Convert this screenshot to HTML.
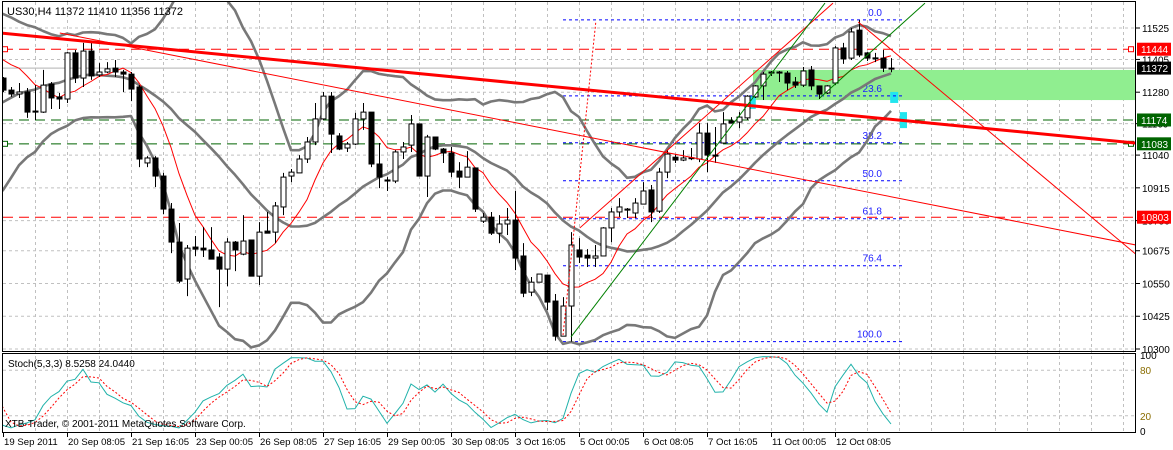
<!DOCTYPE html>
<html><head><meta charset="utf-8"><title>US30 H4 chart</title>
<style>
html,body{margin:0;padding:0;background:#fff;}
svg{display:block;font-family:"Liberation Sans",sans-serif;}
</style></head>
<body>
<svg id="chart" width="1173" height="450" viewBox="0 0 1173 450" xmlns="http://www.w3.org/2000/svg">
<defs>
<clipPath id="mainClip"><rect x="3" y="2" width="1132" height="349"/></clipPath>
<clipPath id="stochClip"><rect x="3" y="354" width="1132" height="78"/></clipPath>
</defs>
<rect x="0" y="0" width="1173" height="450" fill="#fff"/>
<g id="grid"></g>
<g id="mainG" clip-path="url(#mainClip)"></g>
<g id="stochG" clip-path="url(#stochClip)"></g>
<g id="axes"></g>
<rect x="2.5" y="1.5" width="1133" height="350" fill="none" stroke="#000"/>
<rect x="2.5" y="353.5" width="1133" height="79" fill="none" stroke="#000"/>
<text x="7" y="15" font-size="11" fill="#000">US30,H4  11372 11410 11356 11372</text>
<text x="8" y="367" font-size="10" fill="#000">Stoch(5,3,3) 8.5258 24.0440</text>
<text x="5" y="427" font-size="10" fill="#000">XTB-Trader, © 2001-2011 MetaQuotes Software Corp.</text>
</svg>
<script>
const opens=[11334,11288,11273,11281,11208,11204,11311,11262,11254,11430,
11334,11437,11346,11357,11372,11357,11349,11300,11010,11029,
10960,10834,10708,10567,10689,10685,10678,10651,10605,10708,
10662,10716,10578,10750,10746,10842,10960,10972,11025,11090,
11178,11265,11113,11067,11082,11178,11204,11006,10945,10941,
11052,11078,11159,10960,11109,11063,11048,10979,10956,10991,
10788,10803,10742,10777,10792,10655,10517,10555,10582,10483,
10349,10464,10678,10658,10647,10655,10762,10823,10830,10819,
10853,10907,10826,10975,11032,11021,11030,11025,11124,11040,
11086,11170,11166,11182,11262,11304,11353,11357,11353,11319,
11307,11365,11304,11277,11315,11449,11410,11517,11430,11411,
11410,11372];
const highs=[11338,11300,11315,11296,11307,11365,11319,11277,11433,11441,
11468,11468,11391,11395,11403,11365,11357,11307,11036,11036,
10972,10857,10781,10697,10731,10765,10765,10666,10723,10712,
10811,10716,10784,10823,10861,10972,10987,11040,11109,11239,
11281,11281,11124,11090,11201,11239,11204,11086,10956,11059,
11090,11193,11159,11117,11109,11067,11071,11013,11055,10991,
10819,10823,10811,10838,10903,10704,10575,10586,10582,10510,
10498,10746,10723,10681,10697,10765,10838,10876,10838,10876,
10937,10926,10991,11059,11044,11059,11067,11162,11162,11147,
11204,11185,11204,11269,11307,11357,11361,11361,11361,11338,
11376,11380,11304,11307,11456,11468,11525,11556,11433,11430,
11441,11410];
const lows=[11281,11262,11258,11182,11174,11201,11216,11216,11239,11315,
11300,11327,11338,11353,11338,11281,11246,10994,10994,10918,
10815,10666,10552,10502,10655,10651,10643,10460,10540,10597,
10658,10578,10544,10742,10704,10811,10937,10972,11010,11078,
11174,11048,11059,11052,11078,11136,10994,10914,10903,10933,
11025,11052,10960,10880,11059,11010,10956,10914,10956,10823,
10781,10735,10704,10735,10601,10498,10502,10555,10449,10332,
10349,10328,10628,10613,10613,10655,10708,10804,10800,10800,
10853,10784,10819,10952,11010,11017,11021,11013,10975,11010,
11086,11162,11143,11174,11258,11250,11342,11319,11288,11296,
11300,11288,11254,11273,11307,11388,11403,11414,11399,11395,
11357,11356];
const closes=[11288,11273,11281,11204,11204,11307,11258,11254,11430,11334,
11437,11342,11357,11369,11357,11349,11292,11025,11029,10960,
10834,10708,10559,10685,10681,10678,10643,10605,10708,10678,
10712,10578,10746,10742,10846,10956,10975,11025,11090,11178,
11265,11120,11063,11082,11178,11204,11006,10956,10941,11052,
11071,11159,10960,11109,11063,11048,10975,10956,10994,10834,
10803,10742,10777,10792,10647,10513,10555,10586,10479,10349,
10464,10697,10651,10647,10655,10762,10823,10842,10834,10857,
10903,10823,10975,11044,11021,11029,11027,11124,11040,11036,
11159,11162,11185,11265,11304,11349,11357,11353,11315,11307,
11361,11304,11273,11304,11449,11407,11510,11422,11410,11409,
11372,11372];
const priorCloses=[10990,10940,10960,11030,11080,11050,11100,11150,11200,11180,11250,11300,11380,11420,11390,11440,11470,11430,11410,11380];
const priceTicks=[11525,11405,11280,11160,11040,10915,10790,10675,10550,10425,10300];
const dateLabels=["19 Sep 2011","20 Sep 08:05","21 Sep 16:05","23 Sep 00:05","26 Sep 08:05","27 Sep 16:05","29 Sep 00:05","30 Sep 08:05","3 Oct 16:05","5 Oct 00:05","6 Oct 08:05","7 Oct 16:05","11 Oct 00:05","12 Oct 08:05"];
const dateLabelBars=[0,8,16,24,32,40,48,56,64,72,80,88,96,104];
const redLevels=[11444,10803];
const greenLevels=[11174,11083];
const currentPrice=11372;
const fibHigh=11556, fibLow=10328;
const fibLevels=[0,23.6,38.2,50,61.8,76.4,100];
const fibLabels=["0.0","23.6","38.2","50.0","61.8","76.4","100.0"];
const stochTicks=[100,80,20,0];
const zoneTop=11365, zoneBottom=11250;

const NS="http://www.w3.org/2000/svg";
const X=i=>3+8*i;
const Y=p=>28+(11525-p)*(321/1225);
const YS=v=>431-v*0.76;
function mk(tag,parent,attrs){const e=document.createElementNS(NS,tag);for(const k in attrs)e.setAttribute(k,attrs[k]);parent.appendChild(e);return e;}
const grid=document.getElementById('grid'),mainG=document.getElementById('mainG'),stochG=document.getElementById('stochG'),axes=document.getElementById('axes');

priceTicks.forEach(p=>{const l=mk('line',grid,{x1:3,x2:1135,y1:Y(p),y2:Y(p),stroke:'#c0c0c0','stroke-dasharray':'3,3'});

});
for(let k=1;k<=35;k++){const x=X(4*k)+0.5;const l=mk('line',grid,{x1:x,x2:x,y1:2,y2:432,stroke:'#c0c0c0','stroke-dasharray':'3,3'});

}
[80,20].forEach(v=>{const l=mk('line',grid,{x1:3,x2:1135,y1:YS(v),y2:YS(v),stroke:'#c0c0c0','stroke-dasharray':'3,3'});

});

const zone=mk('rect',mainG,{x:X(94)-2,y:Y(zoneTop),width:1135-X(94)+2,height:Y(zoneBottom)-Y(zoneTop),fill:'#90ee90'});


[[93.4,94.1,11265,11216],[110.9,111.9,11281,11239],[112.1,113,11204,11143]].forEach(c=>{const r=mk('rect',mainG,{x:X(c[0]),y:Y(c[2]),width:X(c[1])-X(c[0]),height:Y(c[3])-Y(c[2]),fill:'#22e5ee'});

});

const cp=mk('line',mainG,{x1:3,x2:1135,y1:Y(currentPrice),y2:Y(currentPrice),stroke:'#c0c0c0','stroke-width':1.2});



redLevels.forEach(p=>{const l=mk('line',mainG,{x1:3,x2:1135,y1:Y(p),y2:Y(p),stroke:'#ff0000','stroke-dasharray':'10,6'});

});
greenLevels.forEach(p=>{const l=mk('line',mainG,{x1:3,x2:1135,y1:Y(p),y2:Y(p),stroke:'#006400','stroke-dasharray':'10,6'});

});
[[redLevels[0],'#ff0000'],[greenLevels[1],'#006400']].forEach(a=>{[5,1131].forEach(x=>{const s=mk('rect',mainG,{x:x-2.5,y:Y(a[0])-2.5,width:5,height:5,fill:'#fff',stroke:a[1]});

});});

fibLevels.forEach((f,j)=>{const p=fibHigh-(fibHigh-fibLow)*f/100;const l=mk('line',mainG,{x1:X(70),x2:905,y1:Y(p),y2:Y(p),stroke:'#0000ff','stroke-dasharray':'3,3'});


const t=mk('text',mainG,{x:882,y:Y(p)-4,'font-size':10,fill:'#2020ff','text-anchor':'end'});t.textContent=fibLabels[j];

});

const allC=priorCloses.concat(closes);const off=priorCloses.length;
const up=[],mid=[],lo=[],ma=[];
for(let k=19;k<allC.length;k++){const w=allC.slice(k-19,k+1);const m=w.reduce((a,b)=>a+b,0)/20;const sd=Math.sqrt(w.reduce((a,b)=>a+(b-m)*(b-m),0)/20);up.push([k-off,m+2*sd]);mid.push([k-off,m]);lo.push([k-off,m-2*sd]);}
for(let k=7;k<allC.length;k++){const w=allC.slice(k-7,k+1);ma.push([k-off,w.reduce((a,b)=>a+b,0)/8]);}
[[up,'upper'],[mid,'middle'],[lo,'lower']].forEach(s=>{const pl=mk('polyline',mainG,{points:s[0].map(d=>X(d[0])+','+Y(d[1]).toFixed(1)).join(' '),fill:'none',stroke:'#787878','stroke-width':2.6,'stroke-linejoin':'round'});

});
const mal=mk('polyline',mainG,{points:ma.map(d=>X(d[0])+','+Y(d[1]).toFixed(1)).join(' '),fill:'none',stroke:'#ff0000','stroke-width':1});



closes.forEach((c,i)=>{const o=opens[i],x=X(i);
const w=mk('line',mainG,{x1:x+0.5,x2:x+0.5,y1:Y(highs[i]),y2:Y(lows[i]),stroke:'#000'});


const t=Y(Math.max(o,c)),b=Y(Math.min(o,c));
const r=mk('rect',mainG,{x:x-2,y:t,width:5,height:Math.max(b-t,1),fill:c>=o?'#fff':'#000',stroke:'#000','stroke-width':1});

});

const trendLines=[[-0.4,11506,141.6,11086,'#ff0000',3,'','main-trendline'],[7.1,11506,141.6,10697,'#ff0000',1,'','secondary-trendline'],[106.9,11548,141.6,10662,'#ff0000',1,'','peak-trendline'],[72.1,10762,103.75,11620,'#ff0000',1,'','channel-trendline'],[71,10346,102.75,11620,'#008000',1,'','green-channel-line'],[102.1,11258,115.25,11620,'#008000',1,'','green-upper-line'],[70,10353,74.1,11548,'#ff0000',1,'2,2','fib-anchor-line']];
trendLines.forEach(t=>{const l=mk('line',mainG,{x1:X(t[0]),y1:Y(t[1]),x2:X(t[2]),y2:Y(t[3]),stroke:t[4],'stroke-width':t[5]});if(t[6])l.setAttribute('stroke-dasharray',t[6]);

});

const allH=priorCloses.concat(highs),allL=priorCloses.concat(lows);
const num=[],den=[],K=[],D=[];
for(let k=0;k<allC.length;k++){if(k<4){num.push(null);den.push(null);continue;}const hh=Math.max(...allH.slice(k-4,k+1)),ll=Math.min(...allL.slice(k-4,k+1));num.push(allC[k]-ll);den.push(hh-ll);}
for(let k=0;k<allC.length;k++){if(k<6){K.push(null);continue;}const n=num[k]+num[k-1]+num[k-2],d=den[k]+den[k-1]+den[k-2];K.push(d>0?100*n/d:50);}
for(let k=0;k<allC.length;k++){if(k<8){D.push(null);continue;}D.push((K[k]+K[k-1]+K[k-2])/3);}
const kp=[],dp=[];for(let k=off-1;k<allC.length;k++){kp.push(X(k-off)+','+YS(K[k]).toFixed(1));dp.push(X(k-off)+','+YS(D[k]).toFixed(1));}
const kl=mk('polyline',stochG,{points:kp.join(' '),fill:'none',stroke:'#20b2aa','stroke-width':1});


const dl=mk('polyline',stochG,{points:dp.join(' '),fill:'none',stroke:'#ff0000','stroke-width':1,'stroke-dasharray':'2,2'});



priceTicks.forEach(p=>{const tk=mk('line',axes,{x1:1136,x2:1140,y1:Y(p),y2:Y(p),stroke:'#000'});


const t=mk('text',axes,{x:1142,y:Y(p)+4,'font-size':10,fill:'#000'});t.textContent=p;

});
stochTicks.forEach(v=>{const t=mk('text',axes,{x:1140,y:YS(v)+4,'font-size':10,fill:(v===80||v===20)?'#8a6d00':'#000'});t.textContent=v;

});
dateLabels.forEach((s,j)=>{const x=X(dateLabelBars[j]);const tk=mk('line',axes,{x1:x+0.5,x2:x+0.5,y1:433,y2:437,stroke:'#000'});


const t=mk('text',axes,{x:x+1,y:445,'font-size':9.6,fill:'#000'});t.textContent=s;

});
const tags=[[11444,'#ff0000','#fff'],[11372,'#000','#fff'],[11174,'#006400','#fff'],[11083,'#006400','#fff'],[10803,'#ff0000','#fff']];
tags.forEach(a=>{const r=mk('rect',axes,{x:1137,y:Y(a[0])-6.5,width:34,height:13,fill:a[1]});


const t=mk('text',axes,{x:1141,y:Y(a[0])+4,'font-size':10,fill:a[2]});t.textContent=a[0];

});
</script>
</body></html>
